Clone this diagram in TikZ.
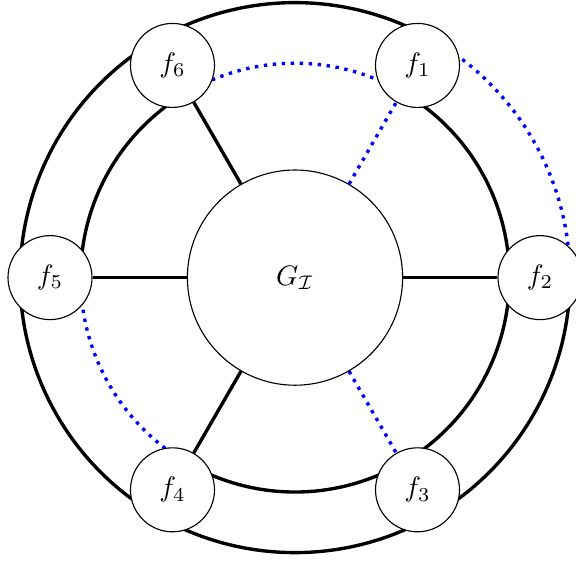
\documentclass[tikz,border=0pt]{standalone}
\usepackage{amsmath}
\def\outerR{3.4375}
\def\innerR{2.68}
\begin{document}
\begin{tikzpicture}[
    vertex/.style={circle, draw, fill=white, minimum size=1.05cm, inner sep=0pt},
    hub/.style={circle, draw, fill=white, minimum size=2.69cm, inner sep=0pt},
    edge/.style={black, very thick},
    weak/.style={blue, very thick, dotted},
]
\useasboundingbox (-3.6875,-3.53) rectangle (3.5125,3.47);

% =========================================================
% the two rings, one arc between each pair of neighbours
% =========================================================
\foreach \a/\b/\s in {120/60/edge, 60/0/weak, 0/-60/edge,
                      -60/-120/edge, -120/-180/edge, 180/120/edge}
  \draw[\s] (\a:\outerR) arc[start angle=\a, end angle=\b, radius=\outerR];

\foreach \a/\b/\s in {120/60/weak, 60/0/edge, 0/-60/edge,
                      -60/-120/edge, -120/-180/weak, 180/120/edge}
  \draw[\s] (\a:\innerR) arc[start angle=\a, end angle=\b, radius=\innerR];

% --- the hub and the six outer nodes ---
\node[hub] (G) at (0,0) {$G_{\mathcal{I}}$};

\foreach \i/\a in {1/60, 2/0, 3/-60, 4/-120, 5/180, 6/120}
  \node[vertex] (f\i) at (\a:3.0625) {$f_{\i}$};

% spokes
\foreach \i in {2,4,5,6}
  \draw[edge] (G) -- (f\i);
\foreach \i in {1,3}
  \draw[weak] (G) -- (f\i);

\end{tikzpicture}
\end{document}
